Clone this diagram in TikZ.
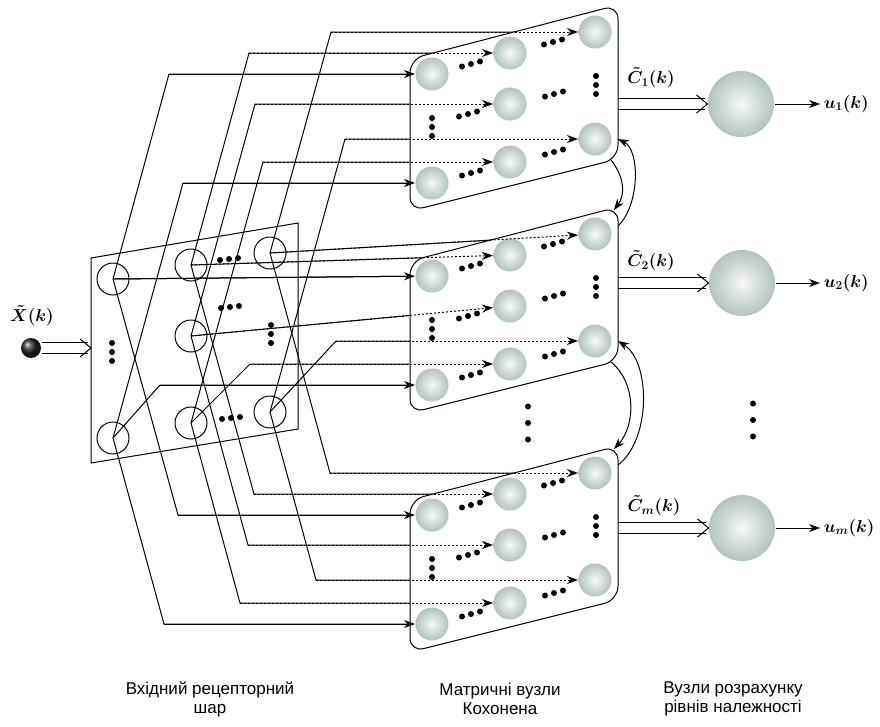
\documentclass[tikz,border=0pt]{standalone}
\usepackage{fontspec}
\setsansfont{Liberation Sans}
\usetikzlibrary{arrows.meta}
\usetikzlibrary{calc}

\definecolor{sphgray}{RGB}{178,196,190}

\tikzset{
  receptor/.style={circle,draw,minimum size=32pt,inner sep=0pt},
  kslot/.style={circle,minimum size=33pt,inner sep=0pt},
  sphere/.style={shading=radial,inner color=sphgray!12,outer color=sphgray},
  member/.style={kslot,sphere,minimum size=66pt},
  pane/.style={draw,fill=white,rounded corners=14pt},
  feed/.style={-{Stealth[length=11pt,width=8pt]}},
  dotfeed/.style={feed,dash pattern=on 2pt off 2pt},
  mlabel/.style={font=\fontsize{18}{21}\selectfont\boldmath},
  caption/.style={font=\fontsize{17}{19}\selectfont\sffamily,align=center},
}
\newcommand{\dotrow}[3][2.5]{\foreach \i in {-1,0,1} \fill (#2+9*\i,#3-#1*\i) circle (3pt);}
\newcommand{\dotcol}[3][9]{\foreach \i in {-1,0,1} \fill (#2,#3+#1*\i) circle (3pt);}
\newcommand{\busline}[2]{%
  \draw ([yshift=5.5pt]#1) -- ([yshift=5.5pt,xshift=-3pt]#2);
  \draw ([yshift=-5.5pt]#1) -- ([yshift=-5.5pt,xshift=-3pt]#2);
  \draw ([xshift=-11pt,yshift=9pt]#2) -- (#2) -- ([xshift=-11pt,yshift=-9pt]#2);}

\begin{document}
\begin{tikzpicture}[x=1pt,y=-1pt,line width=1pt]
  \useasboundingbox (0,0) rectangle (880,726);

  \draw (91,258) -- (298,223) -- (298,429) -- (91,463) -- cycle;
  \node[receptor] (r-11) at (113,279) {};
  \node[receptor] (r-12) at (191,265) {};
  \node[receptor] (r-13) at (270,253) {};
  \node[receptor] (r-22) at (191,336) {};
  \node[receptor] (r-31) at (113,438) {};
  \node[receptor] (r-32) at (191,423) {};
  \node[receptor] (r-33) at (270,412) {};
  \dotrow[1]{229}{259}
  \dotrow[1]{230}{307}
  \dotcol{271}{334}
  \dotcol{112}{352}
  \dotrow[1]{231}{418}

  \node[circle,minimum size=20pt,inner sep=0pt,ball color=black!85] (x0) at (31,348) {};
  \node[mlabel] (x0-lab) at (32,316) {$\tilde{X}(k)$};
  \coordinate (r-in) at (91,348);
  \busline{x0.east}{r-in}

  \foreach \b/\off in {1/0,2/202,3/441}{
    \begin{scope}[shift={(0,\off)}]
      \node[kslot] (k\b-11) at (432,74) {};
      \node[kslot] (k\b-12) at (510,53) {};
      \node[kslot] (k\b-13) at (595,32) {};
      \node[kslot] (k\b-22) at (510,104) {};
      \node[kslot] (k\b-23) at (595,139) {};
      \node[kslot] (k\b-32) at (510,162) {};
      \node[kslot] (k\b-31) at (432,183) {};
      \coordinate (k\b-ne) at (614,8);
      \coordinate (k\b-se) at (611,160);
      \coordinate (k\b-e0) at (618,24);
      \coordinate (k\b-e1) at (618,139);
    \end{scope}
  }

  \foreach \src/\dst/\cx in {
      r-11/k1-11/169, r-12/k1-12/249, r-13/k1-13/331, r-22/k1-22/255,
      r-33/k1-23/345, r-32/k1-32/263, r-31/k1-31/183,
      r-33/k2-23/336, r-32/k2-32/250, r-31/k2-31/160,
      r-13/k3-13/330, r-12/k3-12/254, r-11/k3-11/178, r-22/k3-22/248,
      r-33/k3-23/316, r-32/k3-32/240, r-31/k3-31/164}
    \draw (\src.center) -- (\cx,0 |- \dst) -- (\dst);
  \foreach \src/\dst in {r-13/k2-13, r-12/k2-12, r-11/k2-11, r-22/k2-22}
    \draw (\src.center) -- (\dst);

  \foreach \b/\off in {1/0,2/202,3/441}{
    \begin{scope}[shift={(0,\off)}]
      \draw[pane] (410,59) -- (618,5) -- (618,159) -- (410,211) -- cycle;
      \foreach \n in {11,12,13,22,23,32,31}
        \shade[sphere] (k\b-\n) circle (16.5);
      \dotrow{471}{64}
      \dotrow{553}{42}
      \dotcol{596}{85}
      \dotrow{554}{94}
      \dotrow{468}{114}
      \dotcol{432}{127}
      \dotrow{554}{152}
      \dotrow{471}{173}
    \end{scope}
  }

  \foreach \src/\dst/\cx/\st in {
      r-11/k1-11/169/feed, r-12/k1-12/249/dotfeed, r-13/k1-13/331/dotfeed,
      r-22/k1-22/255/dotfeed, r-33/k1-23/345/dotfeed, r-32/k1-32/263/dotfeed,
      r-31/k1-31/183/feed,
      r-33/k2-23/336/dotfeed, r-32/k2-32/250/dotfeed, r-31/k2-31/160/feed,
      r-13/k3-13/330/dotfeed, r-12/k3-12/254/dotfeed, r-11/k3-11/178/feed,
      r-22/k3-22/248/dotfeed, r-33/k3-23/316/dotfeed, r-32/k3-32/240/dotfeed,
      r-31/k3-31/164/feed}
    \draw[\st] (\cx,0 |- \dst) -- (\dst);
  \foreach \src/\dst/\st in {r-13/k2-13/dotfeed, r-12/k2-12/dotfeed,
      r-11/k2-11/feed, r-22/k2-22/dotfeed}
    \draw[\st] (\src.center) -- (\dst);

  \draw[feed] (k2-e0) .. controls (640,205) and (640,150) .. (k1-e1);
  \draw[feed] (k1-se) .. controls (625,178) and (625,195) .. (k2-ne);
  \draw[feed] (k3-e0) .. controls (651,440) and (651,362) .. (k2-e1);
  \draw[feed] (k2-se) .. controls (636,382) and (636,425) .. (k3-ne);

  \dotcol[16.5]{528}{423}
  \dotcol[16.5]{753}{420}

  \coordinate (k1-out) at (618,104);
  \coordinate (k2-out) at (618,283);
  \coordinate (k3-out) at (618,528);
  \node[member] (o1) at (741,104) {};
  \node[member] (o2) at (742,283) {};
  \node[member] (om) at (742,528) {};
  \busline{k1-out}{o1.west}
  \busline{k2-out}{o2.west}
  \busline{k3-out}{om.west}
  \node[mlabel] (c1-lab) at (651,78) {$\tilde{C}_1(k)$};
  \node[mlabel] (c2-lab) at (651,261) {$\tilde{C}_2(k)$};
  \node[mlabel] (cm-lab) at (654,506) {$\tilde{C}_m(k)$};
  \node[mlabel,anchor=west] (u1) at (820,104) {$u_1(k)$};
  \node[mlabel,anchor=west] (u2) at (820,283) {$u_2(k)$};
  \node[mlabel,anchor=west] (um) at (820,528) {$u_m(k)$};
  \draw[feed] (o1) -- (u1);
  \draw[feed] (o2) -- (u2);
  \draw[feed] (om) -- (um);

  \node[caption] (cap-r) at (210,699) {Вхідний рецепторний\\шар};
  \node[caption] (cap-k) at (500,699) {Матричні вузли\\Кохонена};
  \node[caption] (cap-o) at (733,699) {Вузли розрахунку\\рівнів належності};
\end{tikzpicture}
\end{document}
